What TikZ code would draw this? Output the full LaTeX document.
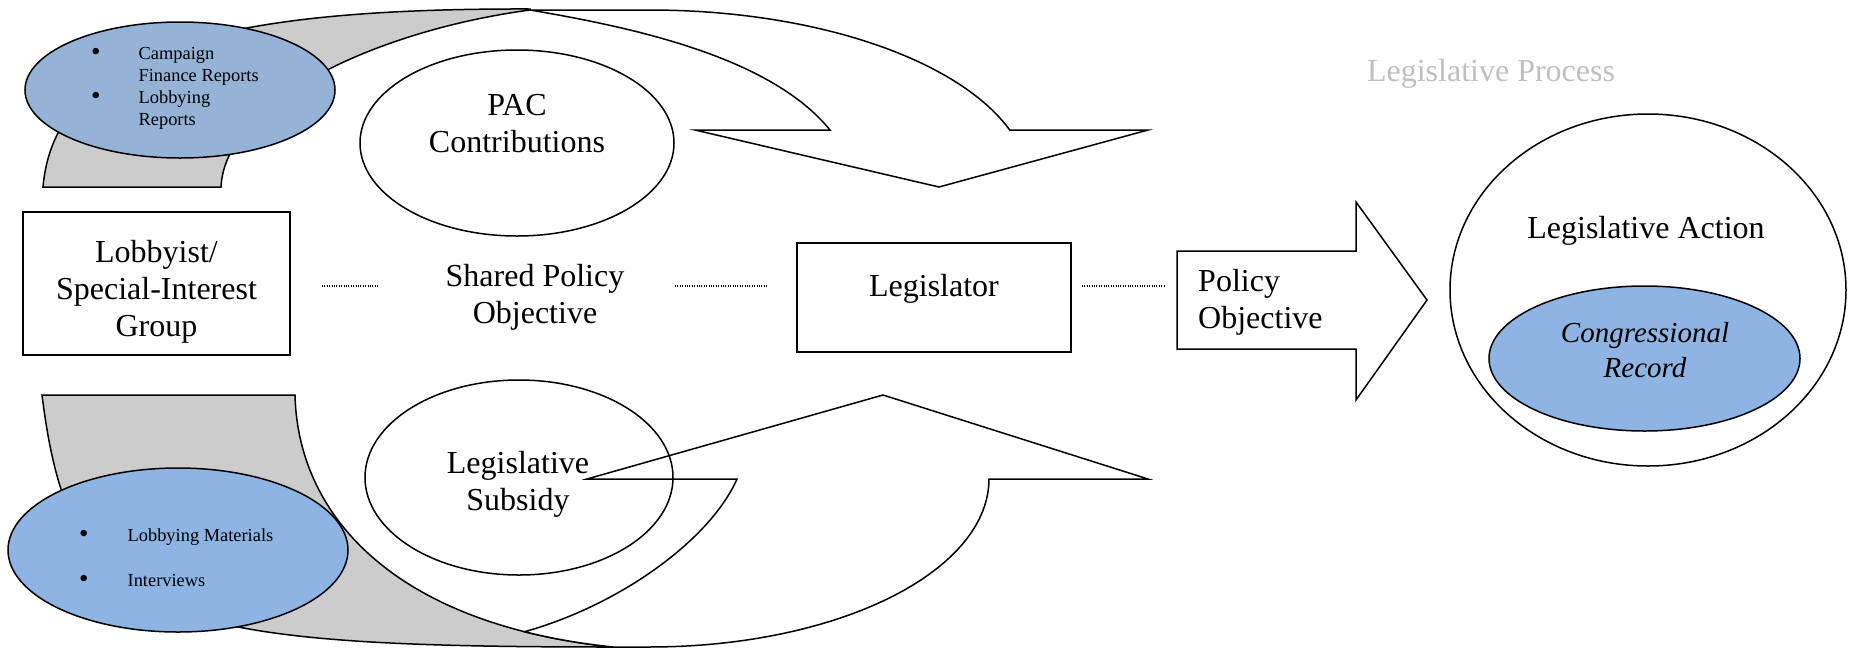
\documentclass[tikz,border=0pt]{standalone}
\usepackage{fontspec}
\setmainfont{Liberation Serif}
\usetikzlibrary{shapes.geometric}
\definecolor{bandgray}{HTML}{CCCCCC}
\definecolor{blueA}{HTML}{95B3D7}
\definecolor{blueB}{HTML}{8DB4E2}
\definecolor{procgray}{HTML}{BFBFBF}
\newcommand{\bigbul}{\raisebox{-1.5pt}{\fontsize{27}{22}\selectfont\textbullet}}
\begin{document}
\begin{tikzpicture}[x=1pt,y=-1pt,
  outl/.style={draw=black, line width=1.5pt},
  ell/.style={ellipse, outl, inner sep=0pt},
  bigtxt/.style={font=\fontsize{32}{37}\selectfont, align=center, inner sep=0pt},
  smalltxt/.style={font=\fontsize{18.4}{22}\selectfont, inner sep=0pt},
  dotline/.style={line width=1.3pt, dash pattern=on 1pt off 1.4pt},
  boxshape/.style={rectangle, outl, inner sep=0pt, fill=white}]

\useasboundingbox (0,0) rectangle (1853,649);

% ---------- top curved arrow ----------
\filldraw[outl, fill=bandgray] (43,187) .. controls (55,50) and (220,8) .. (530,9)
  -- (530,10) .. controls (380,30) and (225,100) .. (221,187) -- cycle;
\filldraw[outl, fill=white] (530,10) -- (650,10)
  -- plot[domain=-90:-18.78, samples=40, variable=\t] ({650+380*cos(\t)},{187+177*sin(\t)})
  -- (1148,130) -- (939,187) -- (695,130) -- (830,130)
  .. controls (770,56) and (630,27) .. (530,10) -- cycle;

\node[ell, fill=blueA, minimum width=310pt, minimum height=136pt] (docsA) at (180,90) {};
\node[smalltxt, anchor=west] (docsAtxt) at (91,88)
  {\begin{tabular}{@{}l@{\hspace{38pt}}l@{}}\bigbul & Campaign\\ & Finance Reports\\ \bigbul & Lobbying\\ & Reports\end{tabular}};

\node[ell, fill=white, minimum width=314pt, minimum height=186pt] (pac) at (517,143) {};
\node[bigtxt] (pactxt) at (517,124) {PAC\\Contributions};

% ---------- bottom curved arrow ----------
\filldraw[outl, fill=bandgray] (42,395) -- (295,395) .. controls (298,520) and (400,625) .. (613,647)
  .. controls (150,647) and (70,620) .. (42,395) -- cycle;
\filldraw[outl, fill=white] (524.6,631.7) .. controls (620,605) and (710,540) .. (737,479)
  -- (587,479) -- (883,395) -- (1148,479) -- (989,479)
  -- plot[domain=0:90, samples=40, variable=\t] ({650+339*cos(\t)},{479+168*sin(\t)})
  -- (613,647) .. controls (581,643.7) and (551.6,638.5) .. (524.6,631.7) -- cycle;

\node[ell, fill=blueB, minimum width=340pt, minimum height=164pt] (docsB) at (178,550) {};
\node[smalltxt, anchor=west] (docsBtxt) at (79,559.5)
  {\begin{tabular}{@{}l@{\hspace{39pt}}l@{}}\bigbul & Lobbying Materials\\[23pt] \bigbul & Interviews\end{tabular}};

\node[ell, minimum width=308pt, minimum height=195pt] (subsidy) at (519,477.5) {};
\node[bigtxt] (subsidytxt) at (518,484) {Legislative\\Subsidy};

% ---------- middle row ----------
\node[boxshape, minimum width=267pt, minimum height=143pt] (lobby) at (156.5,283.5) {};
\node[bigtxt] (lobbytxt) at (156.5,291.5) {Lobbyist/\\Special-Interest\\Group};

\node[bigtxt] (shared) at (535,297) {Shared Policy\\Objective};

\node[boxshape, minimum width=274pt, minimum height=109pt] (legis) at (934,297.5) {};
\node[bigtxt] (legistxt) at (934,289) {Legislator};

\draw[outl, fill=white] (1177,251) -- (1356,251) -- (1356,202) -- (1427,300)
  -- (1356,400) -- (1356,349) -- (1177,349) -- cycle;
\node[bigtxt, align=left, anchor=west] (polobj) at (1198,302) {Policy\\Objective};

\coordinate (d1a) at (322,286); \coordinate (d1b) at (378,286);
\coordinate (d2a) at (675,286); \coordinate (d2b) at (768,286);
\coordinate (d3a) at (1082,286); \coordinate (d3b) at (1164,286);
\draw[dotline] (d1a) -- (d1b);
\draw[dotline] (d2a) -- (d2b);
\draw[dotline] (d3a) -- (d3b);

% ---------- right side ----------
\node[bigtxt, text=procgray] (process) at (1491,74) {Legislative Process};
\node[ell, fill=white, minimum width=396pt, minimum height=352pt] (action) at (1648,290) {};
\node[bigtxt] (actiontxt) at (1646,230.5) {Legislative Action};
\node[ell, fill=blueB, minimum width=311pt, minimum height=145pt] (record) at (1644.5,358.5) {};
\node[bigtxt, font=\fontsize{29}{35}\selectfont\itshape] (recordtxt) at (1645,350.5) {Congressional\\Record};
\end{tikzpicture}
\end{document}
